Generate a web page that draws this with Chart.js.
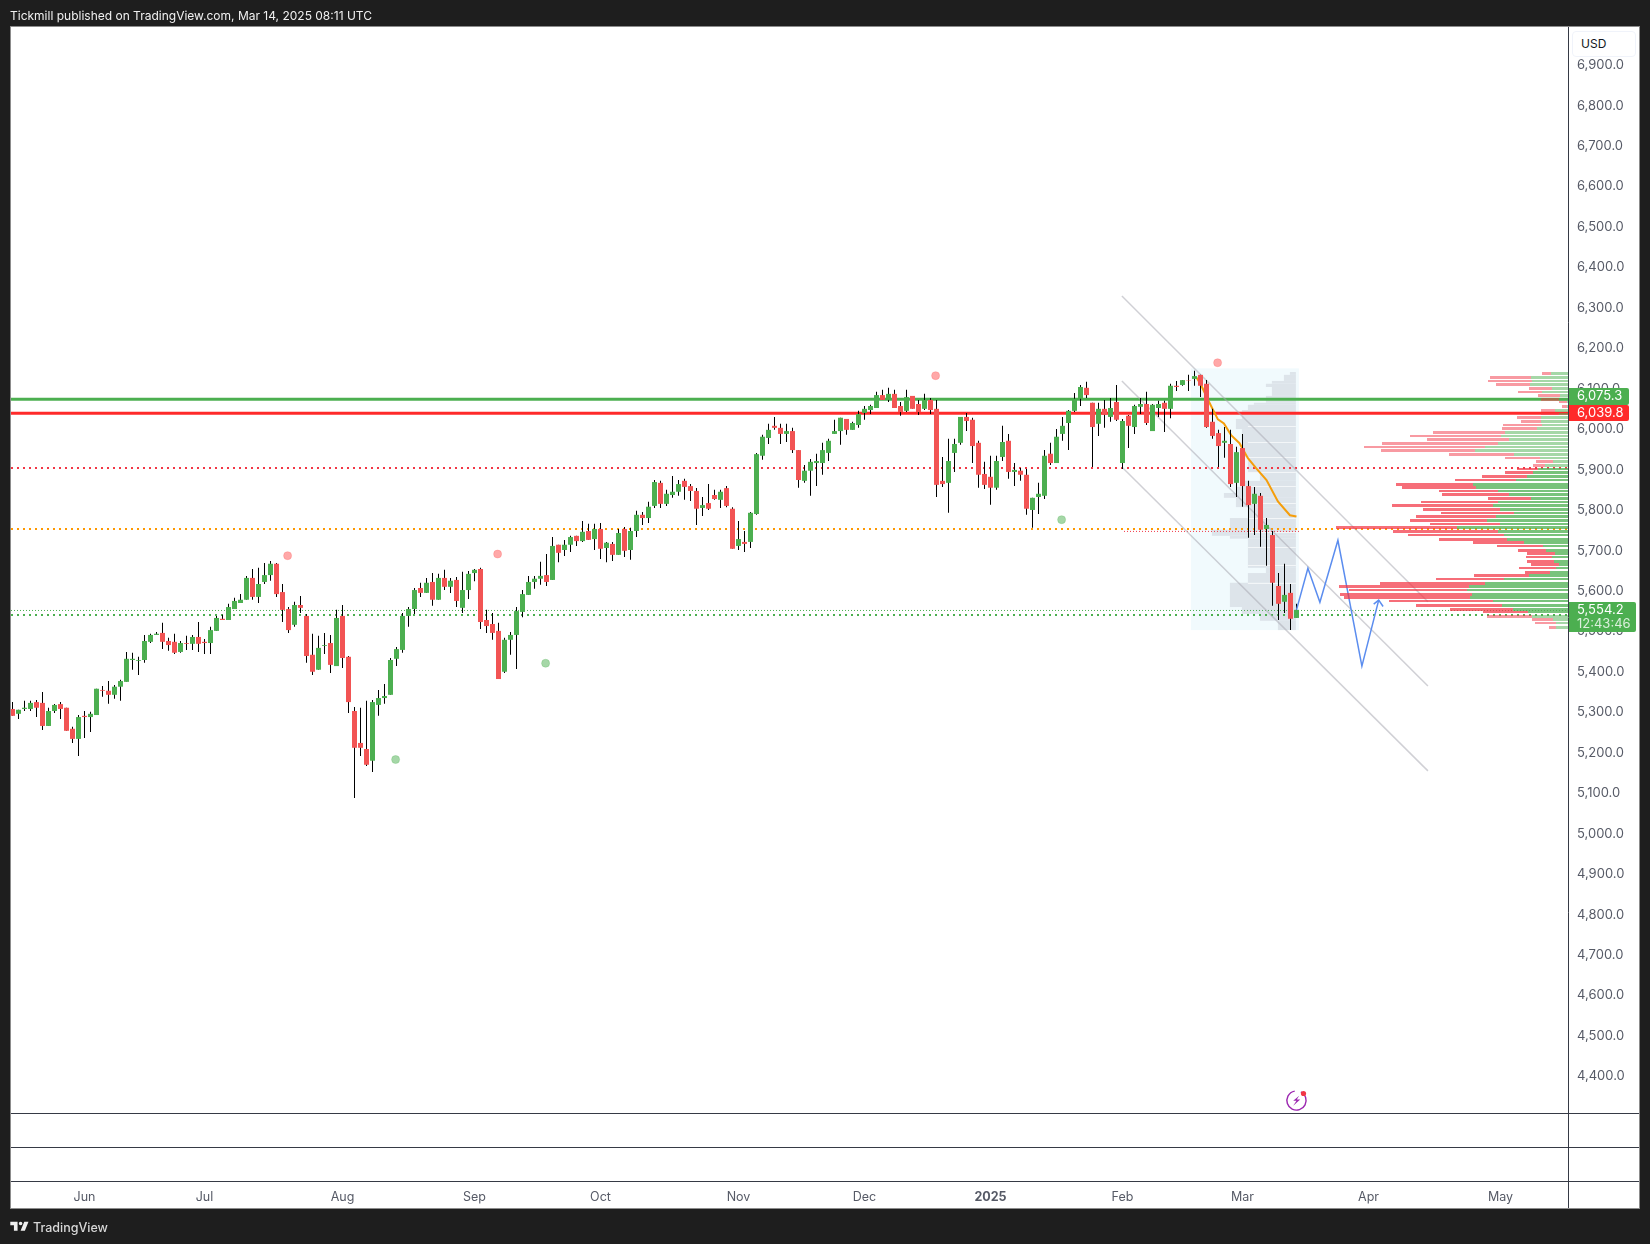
<!DOCTYPE html>
<html>
<head>
<meta charset="utf-8">
<title>Tickmill chart</title>
<script src="https://cdn.jsdelivr.net/npm/chart.js@4"></script>
<style>
  html, body { margin: 0; padding: 0; background: #1e1e1e; }
  #wrap { position: relative; width: 1650px; height: 1244px; overflow: hidden; font-family: Inter, sans-serif; }
  #chart { position: absolute; left: 0; top: 0; }
  #head { position: absolute; left: 10px; top: 8px; color: #f0f0f0; font-size: 12px; line-height: 16px; white-space: nowrap; }
  #usd { position: absolute; left: 1572px; top: 31px; width: 64px; height: 26px; box-sizing: border-box; padding-left: 8px;
         background: #fff; border: 1px solid #f0f3fa; border-radius: 4px; color: #131722; font-size: 12px; line-height: 24px; }
  #foot { position: absolute; left: 33px; top: 1219px; color: #d8d8d8; font-size: 12.5px; font-weight: 500; line-height: 18px; }
  #logo { position: absolute; left: 9px; top: 1218px; }
</style>
</head>
<body>
<div id="wrap">
  <canvas id="chart" width="1650" height="1244"></canvas>
  <div id="head">Tickmill published on TradingView.com, Mar 14, 2025 08:11 UTC</div>
  <div id="usd">USD</div>
  <svg id="logo" width="22" height="17" viewBox="0 0 36 28"><path fill="#f0f0f0" d="M14 6H2v6h6v9h6V6Zm12 15h-7l6-15h7l-6 15Zm-7-9a3 3 0 1 0 0-6 3 3 0 0 0 0 6Z"/></svg>
  <div id="foot">TradingView</div>
</div>
<script>
/* ── Daily candles, Jun 2024 – Mar 2025 ─────────────────────── */
const opens = [
  5306,5294,5306,5306,5323,5321,5264,5301,5318,5309,5257,5232,5289,5286,5291,5353,5351,5341,5361,5373,
  5427,5425,5427,5472,5489,5494,5474,5472,5447,5469,5467,5484,5472,5469,5499,5529,5526,5553,5568,5576,
  5630,5583,5620,5637,5665,5595,5553,5514,5563,5536,5440,5403,5462,5469,5412,5536,5435,5301,5222,5207,
  5178,5316,5333,5341,5430,5452,5536,5553,5605,5593,5620,5576,5630,5608,5625,5556,5600,5642,5652,5526,
  5516,5499,5398,5477,5489,5546,5588,5620,5628,5637,5625,5712,5699,5712,5734,5721,5746,5726,5751,5704,
  5714,5687,5751,5699,5746,5786,5778,5808,5865,5813,5835,5843,5870,5857,5845,5803,5815,5835,5823,5852,
  5801,5709,5719,5719,5788,5932,5976,6006,6001,5986,5993,5946,5870,5895,5914,5914,5939,5986,5993,6023,
  5996,6008,6038,6045,6050,6082,6070,6085,6055,6043,6080,6060,6048,6070,6048,5870,5865,5939,5964,6028,
  6021,5964,5887,5880,5853,5929,5969,5892,5895,5885,5798,5830,5833,5937,5914,5986,6013,6043,6073,6100,
  6063,6011,6048,6028,6065,5914,6031,6003,6053,6060,5993,6050,6063,6048,6105,6107,6119,6122,6132,6110,
  6016,5988,5964,5961,5865,5951,5857,5813,5833,5751,5736,5610,5571,5593,5531
];
const highs = [
  5323,5304,5326,5326,5328,5348,5309,5318,5323,5309,5262,5291,5301,5299,5356,5363,5375,5365,5378,5447,
  5445,5435,5489,5492,5496,5519,5482,5492,5474,5487,5489,5521,5479,5509,5536,5539,5566,5581,5590,5635,
  5652,5655,5667,5672,5667,5615,5558,5571,5585,5541,5492,5487,5494,5489,5551,5563,5437,5311,5309,5326,
  5328,5353,5368,5432,5459,5543,5558,5605,5618,5630,5642,5640,5650,5630,5632,5645,5647,5652,5655,5551,
  5543,5519,5482,5496,5558,5600,5635,5635,5670,5689,5731,5712,5724,5734,5734,5771,5764,5764,5766,5719,
  5719,5751,5756,5754,5796,5793,5818,5872,5870,5848,5882,5872,5875,5862,5852,5830,5862,5848,5848,5857,
  5805,5771,5746,5793,5939,5984,6011,6028,6011,6011,6001,5946,5909,5924,5937,5964,5974,6021,6026,6023,
  6016,6043,6055,6058,6090,6095,6100,6095,6065,6095,6080,6070,6085,6075,6070,5929,5974,5974,6028,6038,
  6026,5969,5917,5932,5932,6006,5986,5914,5902,5899,5828,5865,5946,5964,5998,6028,6045,6087,6107,6115,
  6063,6063,6070,6075,6107,6023,6033,6058,6075,6090,6060,6068,6068,6110,6117,6119,6132,6142,6132,6119,
  6048,5996,6003,5996,5954,5986,5870,5855,5840,5778,5746,5642,5665,5615,5566
];
const lows = [
  5289,5281,5301,5301,5286,5254,5264,5296,5281,5252,5222,5190,5234,5249,5291,5336,5319,5331,5326,5373,
  5403,5390,5420,5469,5489,5454,5450,5442,5445,5452,5452,5447,5442,5442,5499,5526,5526,5553,5568,5576,
  5576,5568,5615,5623,5583,5521,5494,5509,5543,5420,5390,5403,5442,5395,5412,5407,5296,5086,5190,5165,
  5150,5289,5319,5341,5412,5445,5509,5541,5583,5593,5561,5576,5600,5593,5558,5543,5578,5622,5504,5494,
  5477,5380,5395,5440,5405,5533,5588,5603,5613,5610,5625,5669,5684,5694,5709,5719,5724,5699,5677,5669,
  5672,5687,5682,5675,5731,5761,5766,5803,5803,5808,5828,5833,5823,5820,5761,5783,5798,5823,5803,5805,
  5702,5699,5694,5704,5786,5922,5961,5996,5961,5966,5939,5853,5865,5833,5857,5885,5919,5986,5959,5984,
  5996,6001,6021,6035,6050,6070,6065,6050,6031,6040,6048,6033,6045,6035,5830,5855,5791,5892,5959,5993,
  5914,5853,5850,5811,5848,5919,5875,5857,5870,5786,5754,5788,5825,5909,5914,5969,5946,6040,6055,6075,
  5904,5981,6001,6016,6018,5899,5951,5986,6035,6008,5993,6028,5991,6025,6092,6105,6092,6105,6077,6001,
  5974,5904,5927,5855,5830,5806,5729,5736,5707,5660,5561,5526,5543,5501,5531
];
const closes = [
  5289,5304,5309,5321,5309,5264,5301,5316,5306,5252,5232,5286,5286,5294,5356,5351,5341,5361,5375,5430,
  5430,5427,5474,5489,5492,5472,5464,5445,5469,5467,5484,5467,5469,5501,5531,5526,5558,5573,5576,5630,
  5583,5615,5637,5665,5590,5551,5501,5563,5556,5437,5398,5457,5464,5415,5531,5432,5323,5210,5210,5168,
  5323,5333,5338,5427,5454,5536,5553,5600,5593,5618,5576,5630,5608,5623,5573,5600,5640,5650,5521,5511,
  5494,5380,5477,5489,5548,5590,5620,5628,5635,5620,5709,5692,5712,5731,5721,5744,5724,5751,5702,5717,
  5687,5741,5697,5746,5786,5778,5806,5867,5813,5838,5843,5862,5855,5845,5801,5810,5801,5825,5843,5808,
  5702,5726,5714,5791,5936,5979,5996,6001,5986,5993,5946,5872,5895,5917,5919,5946,5969,5993,6026,5996,
  6013,6035,6048,6055,6082,6070,6085,6050,6040,6077,6048,6040,6070,6045,5860,5862,5919,5961,6028,6018,
  5956,5885,5860,5853,5919,5966,5892,5897,5885,5801,5828,5838,5932,5914,5979,6006,6043,6073,6102,6082,
  6003,6048,6033,6050,6021,6018,6006,6055,6060,6013,6058,6060,6048,6105,6102,6119,6118,6129,6105,6003,
  5981,5956,5969,5862,5941,5857,5810,5838,5749,5761,5618,5566,5588,5529,5551
];

/* ── Axes ───────────────────────────────────────────────────── */
const yTicks = [6900,6800,6700,6600,6500,6400,6300,6200,6100,6000,5900,5800,5700,5600,5500,5400,5300,5200,5100,5000,4900,4800,4700,4600,4500,4400];
const monthBars   = [12, 32, 55, 77, 98, 121, 142, 163, 185, 205, 226, 248];
const monthLabels = ['Jun','Jul','Aug','Sep','Oct','Nov','Dec','2025','Feb','Mar','Apr','May'];

/* ── Drawings ───────────────────────────────────────────────── */
const greenLevel = 6072, redLevel = 6037, redDotLevel = 5901.9, orangeLevel = 5751, greenDotLevel = 5538.5, lastLevel = 5549.5;
const thinRedLevel = 5745, thinRedBars = [185.25, 214.7];

const channelBars = [184.9, 235.9];
const channelA = [6327, 5571];
const channelB = [6117, 5363];
const channelC = [5904, 5153];

const pathBars   = [214, 215.9, 217.9, 220.9, 224.9, 227.7];
const pathPrices = [5551, 5654, 5570, 5723, 5412, 5575];

const avgBars   = [197.3, 198.1, 199, 200.1, 200.9, 201.9, 203.1, 204.5, 205.9, 207.3, 209, 210.9, 212.9, 214];
const avgPrices = [6126, 6107, 6078, 6045, 6022, 6012, 5983, 5963, 5926, 5901, 5872, 5819, 5785, 5782];

const pinkBars   = [45.85, 80.85, 153.85, 200.85];
const pinkPrices = [5685, 5689, 6130, 6162];
const mintBars   = [63.85, 88.85, 174.85];
const mintPrices = [5181, 5419, 5774];

/* ── Fixed range profile (grey) ─────────────────────────────── */
const rangeBars   = [196.4, 214.4];
const rangePrices = [6148, 5501];
const greyEndBar  = 213.9;
const greyTops    = [6139,6132,6117,6110,6102,6080,6063,6058,6045,6023,5998,5929,5892,5870,5855,5840,5828,5805,5778,5749,5734,5727,5655,5642,5618,5558,5541,5524];
const greyBottoms = [6132,6117,6110,6102,6080,6063,6058,6045,6023,5998,5929,5892,5870,5855,5840,5828,5805,5778,5749,5734,5727,5655,5642,5618,5558,5541,5524,5501];
const greyVols    = [6,12,24,30,24,30,42,48,54,60,54,48,36,54,60,72,60,48,66,84,66,48,30,48,66,54,36,18];
const greyGaps    = [6006,5967,5930,5892,5857,5815,5778,5744,5707,5662,5618];

/* ── Visible range profile (right edge) ─────────────────────── */
const vpPrices = [6136,6126,6117,6109,6099,6090,6082,6072,6064,6054,6044,6036,6027,6017,6008,6000,5990,5981,5973,5963,5954,5946,5936,5927,5918,5909,5899,5890,5881,5871,5862,5854,5844,5835,5827,5817,5808,5800,5790,5781,5772,5763,5754,5745,5736,5726,5718,5708,5699,5691,5681,5671,5662,5654,5644,5635,5627,5617,5608,5600,5590,5581,5572,5562,5553,5545,5535,5526,5518,5508];
const vpSell   = [9,41,44,34,23,24,22,18,8,5,14,18,24,20,39,35,72,91,82,116,121,94,65,35,17,12,21,28,45,61,77,74,59,67,43,77,101,77,73,80,77,70,121,105,96,68,51,46,28,28,26,27,28,37,25,55,68,105,130,118,132,126,104,86,63,45,45,21,21,7];
const vpBuy    = [17,37,36,38,16,26,8,9,1,1,13,9,27,27,26,31,63,67,59,70,83,93,54,28,15,23,30,35,41,52,95,92,70,59,37,70,75,68,54,72,81,68,111,70,64,61,44,25,22,13,16,14,9,12,18,39,64,83,99,101,96,98,75,66,55,40,36,15,12,12];

/* ── Price labels ───────────────────────────────────────────── */
const lastPriceText = '5,554.2', countdownText = '12:43:46';
const greenLevelText = '6,075.3', redLevelText = '6,039.8';

/* ── Colours ────────────────────────────────────────────────── */
const UP = '#4caf50', DOWN = '#f25454', INK = '#565a66', PANE = '#363a45';

const bars = opens.map((o, i) => i);
const pts  = (xs, ys) => xs.map((x, i) => ({ x: x, y: ys[i] }));
const lineSet = (data, color, width, dash, order) => ({
  type: 'line', data: data, borderColor: color, borderWidth: width, borderDash: dash || [],
  pointRadius: 0, tension: 0, fill: false, order: order
});
const levelSet = (value, color, width, dash, order) =>
  lineSet([{ x: -0.25, y: value }, { x: 259.25, y: value }], color, width, dash, order);

/* ── Plugin: page frame, profiles, labels ───────────────────── */
const framePlugin = {
  id: 'frame',
  beforeDraw(chart) {
    const c = chart.ctx;
    c.save();
    c.fillStyle = '#1e1e1e';
    c.fillRect(0, 0, 1650, 1244);
    c.fillStyle = '#fff';
    c.fillRect(10, 26, 1630, 1183);
    c.strokeStyle = '#8c8c8c';
    c.lineWidth = 1;
    c.strokeRect(10.5, 26.5, 1629, 1182);
    c.restore();
  },
  beforeDatasetsDraw(chart) {
    const c = chart.ctx, xs = chart.scales.x, ys = chart.scales.y, a = chart.chartArea;

    // pane separators
    c.save();
    c.strokeStyle = PANE;
    c.lineWidth = 1;
    [1113.5, 1147.5, 1181.5].forEach(y => {
      c.beginPath(); c.moveTo(11, y); c.lineTo(1639, y); c.stroke();
    });
    c.beginPath(); c.moveTo(a.right + 0.5, 27); c.lineTo(a.right + 0.5, 1208); c.stroke();

    // fixed range background
    const rx0 = xs.getPixelForValue(rangeBars[0]), rx1 = xs.getPixelForValue(rangeBars[1]);
    const ry0 = ys.getPixelForValue(rangePrices[0]), ry1 = ys.getPixelForValue(rangePrices[1]);
    c.fillStyle = '#f1fafd';
    c.fillRect(rx0, ry0, rx1 - rx0, ry1 - ry0);

    // fixed range rows
    const greyEnd = xs.getPixelForValue(greyEndBar);
    c.fillStyle = '#dde4ea';
    greyVols.forEach((v, i) => {
      const t = ys.getPixelForValue(greyTops[i]), b = ys.getPixelForValue(greyBottoms[i]);
      c.fillRect(greyEnd - v, t, v, b - t);
    });
    c.strokeStyle = '#f3f6f8';
    greyGaps.forEach(p => {
      const y = Math.round(ys.getPixelForValue(p)) + 0.5;
      c.beginPath(); c.moveTo(greyEnd - 48, y); c.lineTo(greyEnd, y); c.stroke();
    });
    c.restore();
  },
  afterDatasetsDraw(chart) {
    const c = chart.ctx, xs = chart.scales.x, ys = chart.scales.y, a = chart.chartArea;

    // visible range rows, over the levels
    c.save();
    vpPrices.forEach((p, i) => {
      const h = i % 3 === 2 ? 2 : 3;
      const y = Math.round(ys.getPixelForValue(p) - h / 2);
      const strong = p < 5905 && p > 5540;
      c.fillStyle = strong ? 'rgba(76,175,80,0.75)' : 'rgba(76,175,80,0.5)';
      c.fillRect(a.right - vpBuy[i], y, vpBuy[i], h);
      c.fillStyle = strong ? 'rgba(242,54,69,0.72)' : 'rgba(242,54,69,0.5)';
      c.fillRect(a.right - vpBuy[i] - vpSell[i], y, vpSell[i], h);
    });

    // arrow head on the projected path
    const n = pathBars.length - 1;
    const ax = xs.getPixelForValue(pathBars[n]), ay = ys.getPixelForValue(pathPrices[n]);
    c.strokeStyle = '#5b8def';
    c.lineWidth = 1.5;
    c.beginPath();
    c.moveTo(ax - 5, ay + 4); c.lineTo(ax, ay); c.lineTo(ax + 4.4, ay + 6.3);
    c.stroke();

    // session break icon
    const ix = xs.getPixelForValue(214), iy = 1100.5;
    c.strokeStyle = '#9c27b0';
    c.lineWidth = 1.4;
    c.beginPath(); c.arc(ix, iy, 9.6, -1.1, Math.PI * 1.95 - 1.6); c.stroke();
    c.fillStyle = '#9c27b0';
    c.beginPath();
    c.moveTo(ix + 2.7, iy - 4.7); c.lineTo(ix - 3.3, iy + 0.3); c.lineTo(ix, iy + 0.3);
    c.lineTo(ix - 3.3, iy + 5.3); c.lineTo(ix + 3.7, iy - 1); c.lineTo(ix + 0.3, iy - 1);
    c.closePath(); c.fill();
    c.fillStyle = '#f23645';
    c.beginPath(); c.arc(ix + 7, iy - 7, 2.6, 0, Math.PI * 2); c.fill();
    c.restore();
  },
  afterDraw(chart) {
    const c = chart.ctx, a = chart.chartArea;
    const tag = (top, h, w, color) => {
      c.fillStyle = color;
      c.beginPath();
      c.roundRect(a.right + 1, top, w, h, [0, 2, 2, 0]);
      c.fill();
    };
    c.save();
    c.font = '13px Inter, sans-serif';
    c.textAlign = 'left';
    c.textBaseline = 'middle';

    tag(388, 17, 60, UP);
    tag(405, 16, 60, '#ff2a2a');
    tag(602, 30, 67, UP);

    c.fillStyle = '#fff';
    c.fillText(greenLevelText, 1577, 396.5);
    c.fillText(redLevelText, 1577, 413.5);
    c.fillText(lastPriceText, 1577, 610);
    c.fillStyle = 'rgba(255,255,255,0.8)';
    c.fillText(countdownText, 1577, 624.5);
    c.restore();
  }
};

/* ── Chart ──────────────────────────────────────────────────── */
new Chart(document.getElementById('chart'), {
  type: 'bar',
  data: {
    datasets: [
      {
        label: 'bodies',
        data: bars.map(i => ({ x: i, y: [opens[i], closes[i]] })),
        backgroundColor: bars.map(i => closes[i] >= opens[i] ? UP : DOWN),
        barThickness: 5, grouped: false, order: 1, inflateAmount: 0, borderWidth: 0
      },
      {
        label: 'wicks',
        data: bars.map(i => ({ x: i, y: [lows[i], highs[i]] })),
        backgroundColor: '#000',
        barThickness: 1, grouped: false, order: 2, inflateAmount: 0, borderWidth: 0
      },
      lineSet(pts(avgBars, avgPrices), '#f59e0b', 2, [], 3),
      lineSet(pts(pathBars, pathPrices), '#5b8def', 1.5, [], 0),
      lineSet(pts(channelBars, channelA), 'rgba(170,170,178,0.55)', 1.5, [], 4),
      lineSet(pts(channelBars, channelB), 'rgba(170,170,178,0.55)', 1.5, [], 4),
      lineSet(pts(channelBars, channelC), 'rgba(170,170,178,0.55)', 1.5, [], 4),
      levelSet(greenLevel, UP, 3, [], 5),
      levelSet(redLevel, '#ff2a2a', 3, [], 5),
      levelSet(redDotLevel, '#f23645', 2, [2, 4], 6),
      levelSet(orangeLevel, '#ff9800', 2, [2, 4], 6),
      levelSet(greenDotLevel, UP, 2, [2, 4], 6),
      levelSet(lastLevel, UP, 1, [1, 2], 6),
      lineSet(pts(thinRedBars, [thinRedLevel, thinRedLevel]), '#f23645', 1, [1, 2], 6),
      {
        type: 'scatter', data: pts(pinkBars, pinkPrices), order: 0,
        backgroundColor: 'rgba(255,82,82,0.5)', borderColor: 'rgba(255,82,82,0.25)', borderWidth: 1, pointRadius: 4
      },
      {
        type: 'scatter', data: pts(mintBars, mintPrices), order: 0,
        backgroundColor: 'rgba(76,175,80,0.5)', borderColor: 'rgba(76,175,80,0.25)', borderWidth: 1, pointRadius: 4
      }
    ]
  },
  options: {
    responsive: false,
    animation: false,
    devicePixelRatio: 1,
    layout: { padding: { left: 11, top: 27, right: 10, bottom: 36 } },
    plugins: { legend: { display: false }, tooltip: { enabled: false } },
    scales: {
      x: {
        type: 'linear',
        min: -0.25,
        max: 259.25,
        offset: false,
        grid: { display: false },
        border: { display: false },
        afterBuildTicks: s => { s.ticks = monthBars.map(v => ({ value: v })); },
        afterFit: s => { s.height = 27; s.paddingLeft = 0; s.paddingRight = 0; },
        ticks: {
          autoSkip: false,
          maxRotation: 0,
          padding: 1,
          color: INK,
          font: ctx => ({ family: 'Inter, sans-serif', size: 12.5, weight: ctx.tick && ctx.tick.value === 163 ? '700' : '400' }),
          callback: v => monthLabels[monthBars.indexOf(v)]
        }
      },
      y: {
        type: 'linear',
        position: 'right',
        min: 4139,
        max: 6992,
        grid: { display: false, drawTicks: false },
        border: { display: false },
        afterBuildTicks: s => { s.ticks = yTicks.map(v => ({ value: v })); },
        afterFit: s => { s.width = 72; s.paddingTop = 0; s.paddingBottom = 0; },
        ticks: {
          autoSkip: false,
          padding: 9,
          labelOffset: 1,
          color: INK,
          font: { family: 'Inter, sans-serif', size: 13 },
          callback: v => v.toLocaleString('en-US', { minimumFractionDigits: 1 })
        }
      }
    }
  },
  plugins: [framePlugin]
});
</script>
</body>
</html>
